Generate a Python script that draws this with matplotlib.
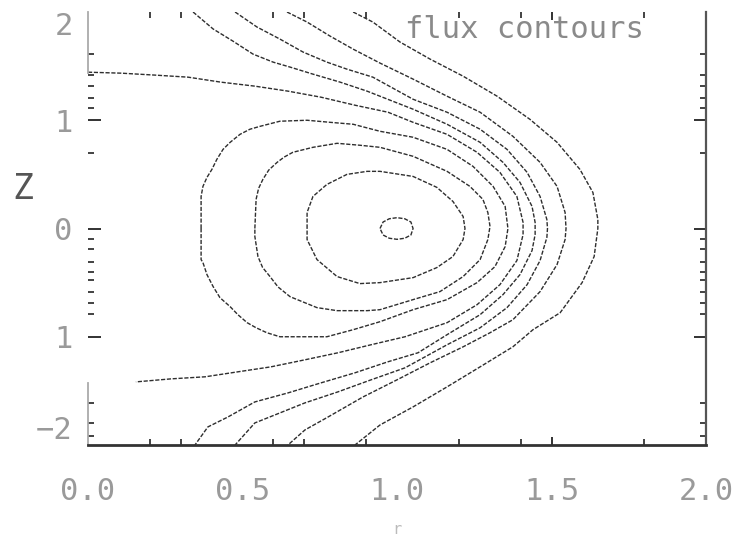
'''
flux contours in the (r, Z) plane
'''

import matplotlib as mpl
mpl.use('Agg')
import matplotlib.pyplot as plt


CONST_WIDTH = 733
CONST_HEIGHT = 544
CONST_DPI = 100

CONST_LINE_COLOR = '#2e2e2e'
CONST_TEXT_COLOR = '#9a9a9a'
CONST_FONT = 'DejaVu Sans Mono'

# contour lines (r, Z)
c1_r = [0.945, 0.955, 0.975, 1.0, 1.025, 1.045, 1.052, 1.045, 1.025, 1.0, 0.975, 0.955, 0.945]
c1_z = [0.0, 0.06, 0.09, 0.10, 0.09, 0.06, 0.0, -0.06, -0.09, -0.10, -0.09, -0.06, 0.0]

c2_r = [0.709, 0.709, 0.728, 0.773, 0.838, 0.903, 0.945, 1.052, 1.129, 1.181, 1.214, 1.220,
        1.214, 1.181, 1.129, 1.052, 0.945, 0.880, 0.806, 0.741, 0.709, 0.709]
c2_z = [0.0, 0.148, 0.296, 0.407, 0.500, 0.528, 0.528, 0.481, 0.380, 0.250, 0.111, 0.0,
        -0.102, -0.259, -0.361, -0.454, -0.500, -0.509, -0.444, -0.287, -0.102, 0.0]

c3_r = [0.540, 0.544, 0.552, 0.566, 0.585, 0.612, 0.635, 0.663, 0.728, 0.806, 0.880, 0.945,
        1.052, 1.162, 1.236, 1.278, 1.294, 1.301, 1.294, 1.269, 1.214, 1.139, 1.052, 0.945,
        0.903, 0.806, 0.741, 0.654, 0.615, 0.589, 0.565, 0.550, 0.540, 0.540]
c3_z = [0.0, 0.269, 0.370, 0.454, 0.540, 0.611, 0.660, 0.704, 0.750, 0.787, 0.769, 0.750,
        0.667, 0.528, 0.389, 0.269, 0.148, 0.019, -0.102, -0.287, -0.444, -0.583, -0.657,
        -0.750, -0.759, -0.759, -0.731, -0.630, -0.540, -0.444, -0.360, -0.259, -0.074, 0.0]

c4_r = [0.366, 0.366, 0.372, 0.385, 0.401, 0.417, 0.437, 0.460, 0.492, 0.524, 0.557, 0.621,
        0.709, 0.783, 0.858, 0.945, 1.052, 1.162, 1.246, 1.311, 1.350, 1.359, 1.350, 1.317,
        1.259, 1.162, 1.052, 0.945, 0.858, 0.773, 0.621, 0.579, 0.544, 0.515, 0.485, 0.460,
        0.427, 0.405, 0.385, 0.372, 0.366, 0.366]
c4_z = [0.0, 0.296, 0.389, 0.472, 0.546, 0.639, 0.731, 0.796, 0.870, 0.917, 0.944, 0.991,
        1.0, 0.981, 0.963, 0.898, 0.843, 0.731, 0.574, 0.389, 0.204, 0.0, -0.167, -0.352,
        -0.5, -0.657, -0.75, -0.861, -0.935, -1.0, -1.0, -0.963, -0.917, -0.870, -0.796,
        -0.722, -0.639, -0.537, -0.426, -0.315, -0.287, 0.0]

c5_r = [0.0, 0.107, 0.217, 0.324, 0.430, 0.540, 0.647, 0.754, 0.864, 0.971, 1.052, 1.162,
        1.259, 1.333, 1.388, 1.408, 1.408, 1.388, 1.333, 1.259, 1.162, 1.026, 0.916, 0.809,
        0.702, 0.592, 0.485, 0.379, 0.269, 0.155]
c5_z = [1.444, 1.435, 1.417, 1.398, 1.352, 1.315, 1.269, 1.213, 1.139, 1.074, 0.981, 0.870,
        0.704, 0.519, 0.296, 0.056, -0.056, -0.296, -0.519, -0.704, -0.870, -1.0, -1.074,
        -1.148, -1.213, -1.278, -1.324, -1.370, -1.389, -1.417]

c6_r = [0.340, 0.405, 0.469, 0.534, 0.599, 0.654, 0.728, 0.816, 0.903, 1.052, 1.162, 1.269,
        1.343, 1.398, 1.437, 1.447, 1.447, 1.437, 1.398, 1.343, 1.269, 1.162, 1.068, 0.971,
        0.864, 0.754, 0.647, 0.540, 0.453, 0.388, 0.346]
c6_z = [2.0, 1.843, 1.731, 1.611, 1.537, 1.491, 1.426, 1.352, 1.269, 1.102, 0.963, 0.796,
        0.611, 0.426, 0.204, 0.056, -0.056, -0.204, -0.426, -0.611, -0.796, -0.981, -1.148,
        -1.231, -1.333, -1.426, -1.519, -1.602, -1.741, -1.833, -2.0]

c7_r = [0.476, 0.547, 0.621, 0.696, 0.773, 0.838, 0.922, 1.052, 1.162, 1.269, 1.356, 1.421,
        1.463, 1.485, 1.487, 1.485, 1.463, 1.421, 1.356, 1.269, 1.162, 1.026, 0.916, 0.809,
        0.702, 0.605, 0.540, 0.476]
c7_z = [2.0, 1.861, 1.750, 1.630, 1.537, 1.472, 1.398, 1.194, 1.074, 0.917, 0.731, 0.519,
        0.296, 0.083, 0.0, -0.083, -0.296, -0.519, -0.731, -0.917, -1.074, -1.287, -1.398,
        -1.509, -1.611, -1.722, -1.796, -2.0]

c8_r = [0.644, 0.709, 0.783, 0.858, 0.945, 1.052, 1.162, 1.269, 1.375, 1.463, 1.518, 1.544,
        1.547, 1.544, 1.518, 1.463, 1.375, 1.301, 1.214, 1.107, 1.0, 0.890, 0.777, 0.702, 0.647]
c8_z = [2.0, 1.907, 1.778, 1.657, 1.528, 1.380, 1.222, 1.074, 0.852, 0.611, 0.389, 0.148,
        0.0, -0.102, -0.333, -0.583, -0.843, -0.963, -1.093, -1.241, -1.398, -1.556, -1.741,
        -1.861, -2.0]

c9_r = [0.858, 0.922, 1.010, 1.107, 1.214, 1.324, 1.430, 1.518, 1.592, 1.634, 1.650, 1.650,
        1.638, 1.599, 1.528, 1.440, 1.375, 1.269, 1.162, 1.052, 0.945, 0.864]
c9_z = [2.0, 1.907, 1.722, 1.565, 1.407, 1.222, 1.009, 0.796, 0.546, 0.333, 0.083, 0.0,
        -0.259, -0.500, -0.778, -0.935, -1.093, -1.278, -1.463, -1.648, -1.815, -2.0]

# axis ticks as they show in the picture
x_major = [0.0, 0.5, 1.0, 1.5, 2.0]
x_labels = ['0.0', '0.5', '1.0', '1.5', '2.0']
x_minor = [0.2, 0.3, 0.6, 0.7, 0.9, 1.2, 1.4, 1.8]

y_major = [-2, -1, 0, 1, 2]
y_labels = ['\u22122', '1', '0', '1', '2']
y_minor = [1.61, 1.42, 1.32, 1.21, 1.11, 0.70, -0.10, -0.19, -0.31, -0.40, -0.48,
           -0.59, -0.69, -0.79, -1.61, -1.80, -1.92]

title_text = 'flux contours'

mpl.rcParams['font.family'] = CONST_FONT

fig = plt.figure(figsize=(CONST_WIDTH/CONST_DPI, CONST_HEIGHT/CONST_DPI), dpi=CONST_DPI)
ax = fig.add_axes([88/CONST_WIDTH, 1 - 445/CONST_HEIGHT,
                   618/CONST_WIDTH, 433/CONST_HEIGHT])

contours = [(c1_r, c1_z), (c2_r, c2_z), (c3_r, c3_z), (c4_r, c4_z), (c5_r, c5_z),
            (c6_r, c6_z), (c7_r, c7_z), (c8_r, c8_z), (c9_r, c9_z)]
for r, z in contours:
    ax.plot(r, z, color=CONST_LINE_COLOR, lw=1.0, ls=(0, (3, 1.2)),
            solid_joinstyle='round', dash_joinstyle='round')

ax.set_xlim([0, 2])
ax.set_ylim([-2, 2])

# spines: no top, broken left one
ax.spines['top'].set_visible(False)
ax.spines['left'].set_visible(False)
ax.spines['bottom'].set_color('#333333')
ax.spines['bottom'].set_linewidth(2.0)
ax.spines['right'].set_color('#555555')
ax.spines['right'].set_linewidth(1.6)
ax.axvline(0, ymin=0.859, ymax=1.0, color='#aaaaaa', lw=1.3, clip_on=False)
ax.axvline(0, ymin=0.0, ymax=0.143, color='#aaaaaa', lw=1.3, clip_on=False)

# x ticks
ax.set_xticks(x_major)
ax.set_xticklabels(x_labels)
ax.set_xticks(x_minor, minor=True)
ax.tick_params(axis='x', which='both', direction='in', top=True, bottom=True,
               color='#222222')
ax.tick_params(axis='x', which='major', length=6, width=1.3, pad=23,
               labelsize=22, labelcolor=CONST_TEXT_COLOR)
ax.tick_params(axis='x', which='minor', length=4, width=1.2)
for val, tick in zip(x_major, ax.xaxis.get_major_ticks()):
    if val != 1.5:
        tick.tick1line.set_visible(False)
        tick.tick2line.set_visible(False)

# y ticks
ax.set_yticks(y_major)
ax.set_yticklabels(y_labels)
ax.set_yticks(y_minor, minor=True)
ax.tick_params(axis='y', which='both', direction='in', left=True, right=True,
               color='#222222')
ax.tick_params(axis='y', which='major', length=9, width=1.3, pad=11,
               labelsize=22, labelcolor=CONST_TEXT_COLOR)
ax.tick_params(axis='y', which='minor', length=4, width=1.2)
for val, tick in zip(y_major, ax.yaxis.get_major_ticks()):
    if abs(val) == 2:
        tick.tick1line.set_visible(False)
        tick.tick2line.set_visible(False)
ylabs = ax.get_yticklabels()
ylabs[0].set_va('bottom')
ylabs[-1].set_va('top')

ax.text(1.80, 1.84, title_text, ha='right', va='center', fontsize=22,
        color='#8a8a8a')

fig.text(23/CONST_WIDTH, 1 - 189/CONST_HEIGHT, 'Z', ha='center', va='center',
         fontsize=25, color='#555555')
fig.text(397/CONST_WIDTH, 1 - 530/CONST_HEIGHT, 'r', ha='center', va='center',
         fontsize=11, color='#bbbbbb')

fig.savefig('out.png', dpi=CONST_DPI)
